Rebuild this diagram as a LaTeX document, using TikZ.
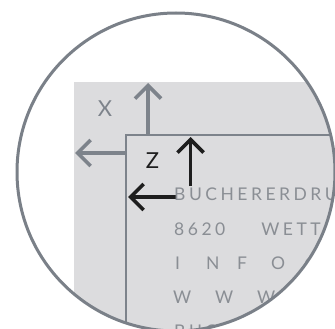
\documentclass[tikz,border=0pt]{standalone}
\usepackage{fontspec}
\setmainfont{Lato}
\newfontfamily\spaced[LetterSpace=20]{Lato}
\usetikzlibrary{arrows.meta}
\definecolor{bgpanel}{HTML}{DCDCDE}
\definecolor{rimgray}{HTML}{7A8088}
\definecolor{axisgray}{HTML}{7D838B}
\definecolor{txtgray}{HTML}{8A8E94}
\definecolor{axisblack}{HTML}{1E1E1E}
\tikzset{
  axis/.style={line width=3.6pt, -{Straight Barb[length=13pt,width=26pt,line width=3.6pt]}},
  lbl/.style={inner sep=0pt, font=\fontsize{22}{22}\selectfont},
  addr/.style={inner sep=0pt, anchor=base west, text=txtgray, font=\spaced\fontsize{17.5}{17.5}\selectfont},
}
\newcommand{\lt}[2]{\makebox[#1pt][l]{#2}}
\begin{document}
\begin{tikzpicture}[x=1pt,y=-1pt]
\useasboundingbox (0,0) rectangle (335,329);
\fill[white] (0,0) rectangle (335,329);
\coordinate (c) at (176,172);
\begin{scope}
  \clip (c) circle (159);
  \fill[bgpanel] (74,82) rectangle (340,340);
  \draw[axisgray, line width=1.5pt] (126,340) -- (126,135) -- (340,135);
  % gray axes
  \coordinate (gv0) at (148,135); \coordinate (gv1) at (148,83);
  \coordinate (gh0) at (126,153); \coordinate (gh1) at (75,153);
  \draw[axis, axisgray] (gv0) -- (gv1);
  \draw[axis, axisgray] (gh0) -- (gh1);
  \node[lbl, text=axisgray] (xl) at (105,108.5) {X};
  % black axes
  \coordinate (bv0) at (190.5,186); \coordinate (bv1) at (190.5,137);
  \coordinate (bh0) at (176,197); \coordinate (bh1) at (128,197);
  \draw[axis, axisblack] (bv0) -- (bv1);
  \draw[axis, axisblack] (bh0) -- (bh1);
  \node[lbl, text=axisblack] (zl) at (152.5,160.5) {Z};
  % address text
  \node[addr] (t1) at (174,200) {BUCHERERDRUCK AG};
  \node[addr] (t2) at (174,235) {8620\hspace{36pt}WETTINGEN};
  \node[addr, font=\fontsize{17.5}{17.5}\selectfont] (t3) at (175,269) {\lt{31}{I}\lt{31}{N}\lt{34}{F}\lt{33}{O}\lt{32}{@}};
  \node[addr, font=\fontsize{17.5}{17.5}\selectfont] (t4) at (173,303) {\lt{42}{W}\lt{42}{W}\lt{42}{W}\lt{30}{.}};
  \node[addr] (t5) at (174,337) {BUCHERERDRUCK.CH};
\end{scope}
\draw[rimgray, line width=3pt] (c) circle (159);
\end{tikzpicture}
\end{document}
